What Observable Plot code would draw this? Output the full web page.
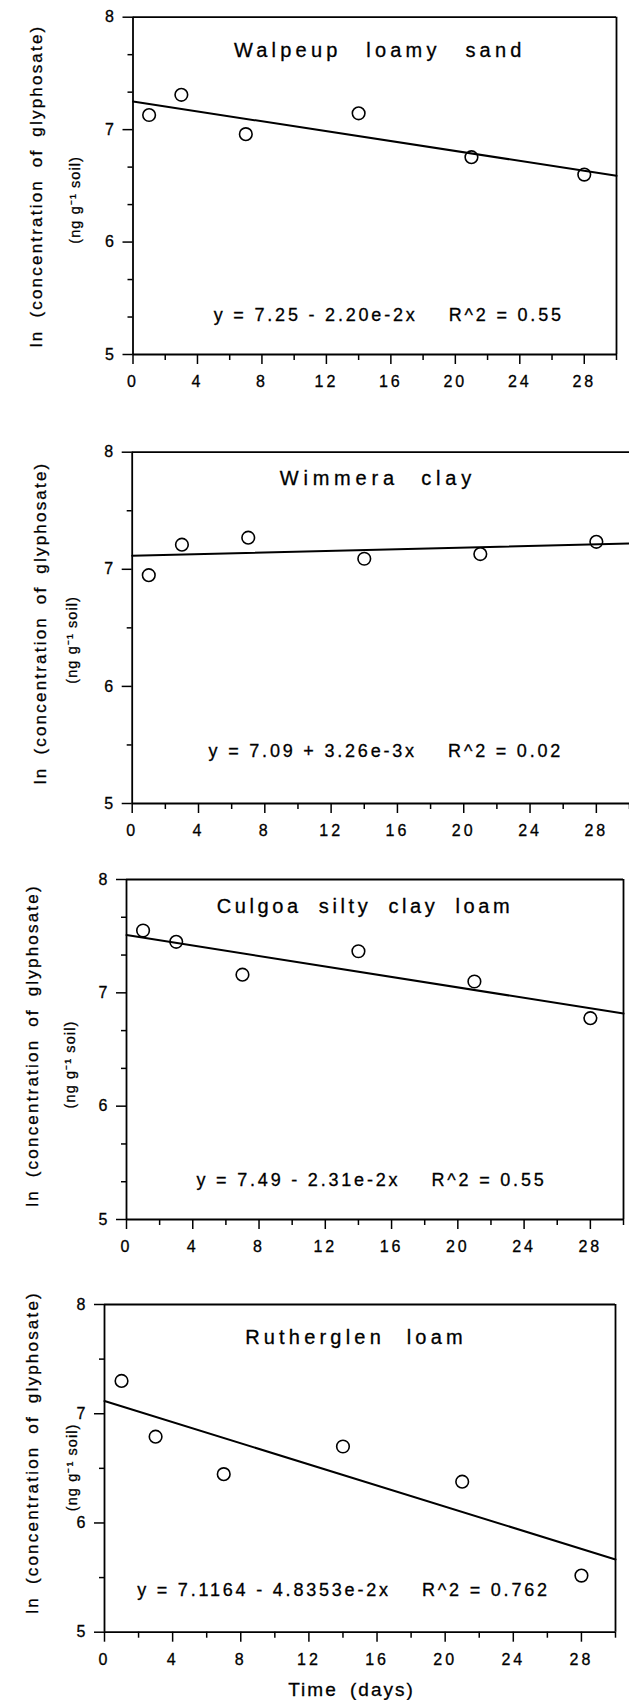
<!DOCTYPE html>
<html><head><meta charset="utf-8">
<script src="https://cdn.jsdelivr.net/npm/d3@7"></script>
<script src="https://cdn.jsdelivr.net/npm/@observablehq/plot@0.6"></script>
<style>
html,body{margin:0;padding:0;background:#fff;}
#chart{width:629px;}
#chart svg{display:block;}
#chart svg text{font-family:"Liberation Sans",Arial,Helvetica,sans-serif;fill:#000;stroke:#000;stroke-width:0.3px;}
g[aria-label="x-axis tick label"] text, g[aria-label="y-axis tick label"] text{letter-spacing:3px;font-size:16px;}
g[font-size="18"] text{letter-spacing:2.8px;}
g[font-size="17"] text{letter-spacing:2.2px;word-spacing:5px;}
g[font-size="14.5"] text{letter-spacing:1.1px;stroke-width:0.2px;}
g[font-size="19"] text{letter-spacing:2px;word-spacing:5px;}
</style>
</head><body><div id="chart"></div>
<script>
// ---- data ----
const days = [1, 3, 7, 14, 21, 28];
const soils = ["Walpeup loamy sand", "Wimmera clay", "Culgoa silty clay loam", "Rutherglen loam"];
const walpeup = [7.13, 7.31, 6.96, 7.145, 6.755, 6.60];
const wimmera = [6.95, 7.21, 7.27, 7.09, 7.13, 7.235];
const culgoa = [7.55, 7.45, 7.16, 7.367, 7.10, 6.776];
const rutherglen = [7.30, 6.79, 6.447, 6.70, 6.378, 5.518];
const series = [walpeup, wimmera, culgoa, rutherglen];
// fitted lines as drawn
const intercepts = [7.25, 7.115, 7.51, 7.1164];
const slopes = [-0.0220, 0.0035, -0.0231, -0.048353];
const equations = ["y = 7.25 - 2.20e-2x", "y = 7.09 + 3.26e-3x", "y = 7.49 - 2.31e-2x", "y = 7.1164 - 4.8353e-2x"];
const r2 = ["R^2 = 0.55", "R^2 = 0.02", "R^2 = 0.55", "R^2 = 0.762"];
const xTicks = [0, 4, 8, 12, 16, 20, 24, 28];
const xMinorTicks = [2, 6, 10, 14, 18, 22, 26, 30];
const yTicks = [5, 6, 7, 8];
const xDomain = [0, 30];
const yDomain = [5, 8];
const yLabel = "ln (concentration of glyphosate)";
const unitLabel = "(ng g\u207B\u00B9 soil)";
const xLabel = "Time (days)";

// ---- layout (page pixels) ----
const layout = [
  {top: 0,    height: 410, left: 132.5, right: 616, plotTop: 16.7,  plotBottom: 354,    minorStep: 1/3, frameRight: true,
   title: [5, 33], titleLS: 4.2, titleWS: 15, eq: [14, -39], ylab: [-96.5, 0], unit: [-57.5, 14]},
  {top: 410,  height: 440, left: 131.7, right: 629, plotTop: 451.7, plotBottom: 803,    minorStep: 0.5, frameRight: false,
   title: [-3, 26], titleLS: 4.8, titleWS: 12, eq: [5, -52], ylab: [-92, -5], unit: [-60, 12]},
  {top: 850,  height: 410, left: 126,   right: 623, plotTop: 879,   plotBottom: 1219,   minorStep: 1/3, frameRight: true,
   title: [-10, 27], titleLS: 3.6, titleWS: 8, eq: [-3.5, -39.3], ylab: [-94, -4], unit: [-56, 15]},
  {top: 1260, height: 440, left: 104,   right: 615, plotTop: 1304,  plotBottom: 1631.7, minorStep: 0.5, frameRight: true,
   title: [-4, 33.5], titleLS: 4.2, titleWS: 12, eq: [-16.5, -42], ylab: [-72, -16], unit: [-32, -1]},
];

const root = document.getElementById("chart");
layout.forEach((L, i) => {
  const pts = days.map((d, j) => ({day: d, value: series[i][j]}));
  const fit = xDomain.map(x => ({day: x, value: intercepts[i] + slopes[i] * x}));
  const yMinor = d3.range(yDomain[0], yDomain[1] + 1e-9, L.minorStep).filter(v => Math.abs(v - Math.round(v)) > 1e-6);
  const marks = [
    Plot.ruleY([yDomain[0], yDomain[1]], {strokeWidth: 1.8}),
    Plot.ruleX(L.frameRight ? xDomain : [xDomain[0]], {strokeWidth: 1.8}),
    Plot.axisX({ticks: xTicks, tickSize: 10, tickPadding: 11, strokeWidth: 1.5, tickFormat: d => String(d), label: null}),
    Plot.axisX({ticks: xMinorTicks, tickSize: 6, strokeWidth: 1.5, tickFormat: () => "", label: null}),
    Plot.axisY({ticks: yTicks, tickSize: 10, tickPadding: 6, strokeWidth: 1.5, tickFormat: d => String(d), label: null}),
    Plot.axisY({ticks: yMinor, tickSize: 5, strokeWidth: 1.5, tickFormat: () => "", label: null}),
    Plot.line(fit, {x: "day", y: "value", stroke: "#000", strokeWidth: 2}),
    Plot.dot(pts, {x: "day", y: "value", r: 6.3, stroke: "#000", strokeWidth: 1.6, fill: "none"}),
    Plot.text([soils[i]], {frameAnchor: "top", textAnchor: "middle", lineAnchor: "middle", dx: L.title[0], dy: L.title[1], fontSize: 20}),
    Plot.text([equations[i] + "\u00A0\u00A0\u00A0\u00A0" + r2[i]], {frameAnchor: "bottom", textAnchor: "middle", lineAnchor: "middle", dx: L.eq[0], dy: L.eq[1], fontSize: 18}),
    Plot.text([yLabel], {frameAnchor: "left", textAnchor: "middle", lineAnchor: "middle", rotate: -90, dx: L.ylab[0], dy: L.ylab[1], fontSize: 17}),
    Plot.text([unitLabel], {frameAnchor: "left", textAnchor: "middle", lineAnchor: "middle", rotate: -90, dx: L.unit[0], dy: L.unit[1], fontSize: 14.5}),
  ];
  if (i === layout.length - 1) {
    marks.push(Plot.text([xLabel], {frameAnchor: "bottom", textAnchor: "middle", lineAnchor: "middle", dx: -8.5, dy: 58, fontSize: 19}));
  }
  const svg = Plot.plot({
    width: 629,
    height: L.height,
    marginTop: L.plotTop - L.top,
    marginBottom: L.top + L.height - L.plotBottom,
    marginLeft: L.left,
    marginRight: 629 - L.right,
    x: {domain: xDomain},
    y: {domain: yDomain},
    style: {background: "#fff", color: "#000", overflow: "visible"},
    marks
  });
  d3.select(svg).selectAll('g[font-size="20"] text')
    .style("letter-spacing", L.titleLS + "px")
    .style("word-spacing", L.titleWS + "px");
  root.appendChild(svg);
});
</script>
</body></html>
